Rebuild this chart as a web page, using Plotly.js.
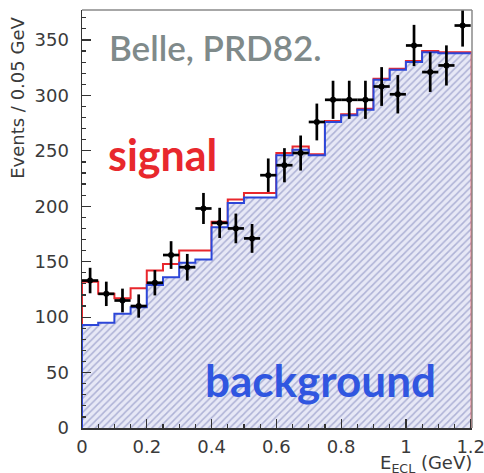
<!DOCTYPE html>
<html>
<head>
<meta charset="utf-8">
<script src="https://cdn.plot.ly/plotly-3.0.1.min.js"></script>
<style>
  html, body { margin: 0; padding: 0; background: #ffffff; }
  #chart { width: 484px; height: 473px; }
</style>
</head>
<body>
<div id="chart"></div>
<script>
// E_ECL histogram, 0.05 GeV bins from 0 to 1.2 GeV
const binEdges = [0, 0.05, 0.1, 0.15, 0.2, 0.25, 0.3, 0.35, 0.4, 0.45, 0.5, 0.55,
                  0.6, 0.65, 0.7, 0.75, 0.8, 0.85, 0.9, 0.95, 1.0, 1.05, 1.1, 1.15, 1.2];
const binCenters = [0.025, 0.075, 0.125, 0.175, 0.225, 0.275, 0.325, 0.375, 0.425, 0.475,
                    0.525, 0.575, 0.625, 0.675, 0.725, 0.775, 0.825, 0.875, 0.925, 0.975,
                    1.025, 1.075, 1.125, 1.175];

// measured events per bin and their uncertainties
const dataCounts = [133, 121, 115, 110, 131, 156, 145, 198, 185, 180, 171, 228,
                    237, 248, 276, 296, 296, 296, 308, 301, 345, 321, 327, 363];
const dataErrors = [11.5, 11, 10.7, 10.5, 11.4, 12.5, 12, 14, 13.6, 13.4, 13, 15.1,
                    15.4, 15.8, 16.6, 17.2, 17.2, 17.2, 17.5, 17.3, 18.6, 17.9, 18.1, 19];

// expected background and signal + background per bin
const background = [93, 95, 103, 109, 129, 136, 149, 152, 181, 203, 208, 208,
                    246, 251, 246, 276, 282, 287, 314, 323, 330, 339, 338, 338];
const signalPlusBkg = [132, 121, 117, 126, 142, 148, 160, 160, 186, 206, 212, 212,
                       248, 254, 247, 277, 283, 288, 315, 324, 331, 340, 339, 339];

const xTicks = [0, 0.2, 0.4, 0.6, 0.8, 1, 1.2];
const xTickText = ['0', '0.2', '0.4', '0.6', '0.8', '1', '1.2'];

// step outline: start on the axis at x=0, then one point per bin edge
function stepX() { return [binEdges[0]].concat(binEdges); }
function stepY(vals) { return [0].concat(vals, [vals[vals.length - 1]]); }

const redX = stepX().concat([binEdges[binEdges.length - 1]]);
const redY = stepY(signalPlusBkg).concat([0]);

const traces = [
  {
    type: 'scatter', mode: 'lines', name: 'signal',
    x: redX, y: redY,
    line: { shape: 'hv', color: '#e8272d', width: 2 },
    hoverinfo: 'skip'
  },
  {
    type: 'scatter', mode: 'lines', name: 'background',
    x: stepX(), y: stepY(background),
    line: { shape: 'hv', color: '#2c46d8', width: 2 },
    fill: 'tozeroy',
    fillcolor: '#e6e8f6',
    fillpattern: { shape: '/', bgcolor: '#e7e8f6', fgcolor: '#aeb2d6', size: 5, solidity: 0.3 },
    hoverinfo: 'skip'
  },
  {
    type: 'scatter', mode: 'markers', name: 'data',
    x: binCenters, y: dataCounts,
    marker: { color: '#000000', size: 6, symbol: 'circle' },
    error_y: { type: 'data', array: dataErrors, visible: true, color: '#000000', thickness: 2.7, width: 0 },
    error_x: { type: 'constant', value: 0.025, visible: true, color: '#000000', thickness: 2.7, width: 0 }
  }
];

const tickFont = { family: 'DejaVu Sans, sans-serif', size: 18, color: '#3a3a3a' };

const layout = {
  width: 484, height: 473,
  margin: { l: 82, r: 12, t: 10, b: 45, pad: 0 },
  paper_bgcolor: '#ffffff', plot_bgcolor: '#ffffff',
  showlegend: false,
  xaxis: {
    range: [0, 1.204], tickmode: 'array', tickvals: xTicks, ticktext: xTickText,
    ticks: 'inside', ticklen: 9, tickwidth: 1.2, tickcolor: '#333333',
    minor: { dtick: 0.05, tick0: 0, ticks: 'inside', ticklen: 4, tickcolor: '#333333', showgrid: false },
    showgrid: false, zeroline: false,
    showline: true, linecolor: '#333333', linewidth: 1.5,
    tickfont: tickFont, ticklabelstandoff: 2, ticklabeloverflow: 'allow',
    layer: 'above traces', fixedrange: true
  },
  yaxis: {
    range: [0, 377], dtick: 50, tick0: 0,
    ticks: 'inside', ticklen: 9, tickwidth: 1.2, tickcolor: '#333333',
    minor: { dtick: 10, tick0: 0, ticks: 'inside', ticklen: 4, tickcolor: '#333333', showgrid: false },
    showgrid: false, zeroline: false,
    showline: true, linecolor: '#333333', linewidth: 1.5,
    tickfont: tickFont, ticklabelstandoff: 8, ticklabeloverflow: 'allow',
    layer: 'above traces', fixedrange: true
  },
  shapes: [
    { type: 'line', xref: 'paper', yref: 'paper', x0: 0, x1: 1, y0: 1, y1: 1,
      line: { color: '#8a8a8a', width: 1.5 } },
    { type: 'line', xref: 'paper', yref: 'paper', x0: 1, x1: 1, y0: 0, y1: 1,
      line: { color: '#8a8a8a', width: 1.5 } }
  ],
  annotations: [
    { text: 'Events / 0.05 GeV', xref: 'paper', yref: 'paper', x: -0.164, y: 0.79,
      xanchor: 'center', yanchor: 'middle', textangle: -90, showarrow: false,
      font: { family: 'DejaVu Sans, sans-serif', size: 18, color: '#3a3a3a' } },
    { text: 'E<sub>ECL</sub> (GeV)', xref: 'paper', yref: 'paper', x: 1.005, y: -0.087,
      xanchor: 'right', yanchor: 'middle', showarrow: false,
      font: { family: 'DejaVu Sans, sans-serif', size: 18, color: '#3a3a3a' } },
    { text: 'Belle, PRD82.', xref: 'paper', yref: 'paper', x: 0.064, y: 0.911,
      xanchor: 'left', yanchor: 'middle', showarrow: false,
      font: { family: 'Lato, sans-serif', size: 35, color: '#7f8a8a', weight: 600 } },
    { text: 'signal', xref: 'paper', yref: 'paper', x: 0.062, y: 0.655,
      xanchor: 'left', yanchor: 'middle', showarrow: false,
      font: { family: 'Lato, sans-serif', size: 43, color: '#e8282d', weight: 700 } },
    { text: 'background', xref: 'paper', yref: 'paper', x: 0.31, y: 0.115,
      xanchor: 'left', yanchor: 'middle', showarrow: false,
      font: { family: 'Lato, sans-serif', size: 44, color: '#3056e0', weight: 700 } }
  ]
};

Plotly.newPlot('chart', traces, layout, { staticPlot: true, displayModeBar: false });
</script>
</body>
</html>
